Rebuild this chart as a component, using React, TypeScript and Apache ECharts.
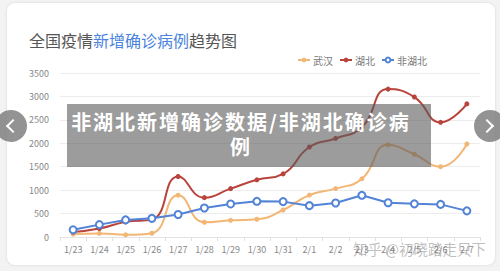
import React, { useEffect, useRef } from "react";
import * as echarts from "echarts";

const categories = ["1/23", "1/24", "1/25", "1/26", "1/27", "1/28", "1/29", "1/30", "1/31", "2/1", "2/2", "2/3", "2/4", "2/5", "2/6", "2/7"];
const wuhan = [62, 77, 46, 80, 892, 315, 356, 378, 576, 894, 1033, 1242, 1967, 1766, 1501, 1985];
const hubei = [105, 180, 323, 371, 1291, 840, 1032, 1220, 1347, 1921, 2103, 2345, 3156, 2987, 2447, 2841];
const nonHubei = [154, 264, 365, 398, 480, 619, 705, 762, 755, 669, 726, 890, 731, 707, 696, 558];
const seriesNames = ["武汉", "湖北", "非湖北"];
const yTicks = { min: 0, max: 3500, interval: 500 };

const FONT = "'Noto Sans CJK SC', 'Noto Sans', sans-serif";

export default function App() {
  const ref = useRef<HTMLDivElement>(null);
  useEffect(() => {
    const chart = echarts.init(ref.current!, null, { renderer: "svg" });
    chart.setOption({
      animation: false,
      textStyle: { fontFamily: FONT },
      title: {
        text: "{a|全国疫情}{b|新增确诊病例}{a|趋势图}",
        left: 24,
        top: 27,
        textStyle: {
          fontWeight: "normal",
          rich: {
            a: { fontSize: 16, color: "#555", fontFamily: FONT, fontWeight: "normal" },
            b: { fontSize: 16, color: "#4a84dc", fontFamily: FONT, fontWeight: "normal" },
          },
        },
      },
      legend: {
        data: seriesNames,
        left: 292,
        top: 50,
        itemWidth: 12,
        itemHeight: 6,
        itemGap: 6,
        textStyle: { fontSize: 10, color: "#777", padding: [0, 0, 0, -2] },
      },
      grid: { left: 60, right: 20, top: 73, bottom: 34 },
      xAxis: {
        type: "category",
        data: categories,
        boundaryGap: true,
        axisLine: { lineStyle: { color: "#e3e3e3" } },
        axisTick: { show: true, length: 4, lineStyle: { color: "#e0e0e0" } },
        axisLabel: { fontSize: 9, color: "#888", margin: 8 },
      },
      yAxis: {
        type: "value",
        min: yTicks.min,
        max: yTicks.max,
        interval: yTicks.interval,
        axisLine: { show: false },
        axisTick: { show: false },
        axisLabel: { fontSize: 9, color: "#888", margin: 11, formatter: (v: number) => String(v) },
        splitLine: { lineStyle: { color: "#ececec" } },
      },
      series: [
        {
          name: seriesNames[0],
          type: "line",
          data: wuhan,
          smooth: true,
          symbol: "circle",
          symbolSize: 5,
          itemStyle: { color: "#f2b675" },
          lineStyle: { width: 2, color: "#f2b675" },
        },
        {
          name: seriesNames[1],
          type: "line",
          data: hubei,
          smooth: true,
          symbol: "circle",
          symbolSize: 5,
          itemStyle: { color: "#b8443d" },
          lineStyle: { width: 2, color: "#b8443d" },
        },
        {
          name: seriesNames[2],
          type: "line",
          data: nonHubei,
          smooth: false,
          symbol: "emptyCircle",
          symbolSize: 7,
          itemStyle: { color: "#5283d6", borderWidth: 1 },
          lineStyle: { width: 2, color: "#5283d6" },
        },
      ],
      graphic: [
        {
          type: "text",
          left: 353,
          top: 241,
          z: 100,
          style: {
            text: "知乎 @初晓踏走只下",
            fontSize: 14.5,
            fontFamily: FONT,
            fill: "rgba(110,110,110,0.45)",
          },
        },
      ],
    });
    return () => chart.dispose();
  }, []);

  const chevron = (dir: "left" | "right"): React.CSSProperties => ({
    position: "absolute",
    top: 11,
    left: dir === "left" ? 13 : 8,
    width: 8,
    height: 8,
    borderLeft: "2px solid #fff",
    borderBottom: "2px solid #fff",
    transform: dir === "left" ? "rotate(45deg)" : "rotate(-135deg)",
  });

  return (
    <div
      style={{
        position: "fixed",
        left: 0,
        top: 0,
        width: 500,
        height: 271,
        background: "#f3f3f3",
        overflow: "hidden",
        fontFamily: FONT,
      }}
    >
      <div
        style={{
          position: "absolute",
          left: 7,
          top: 3,
          width: 488,
          height: 262,
          background: "#fff",
          borderRadius: 8,
          boxShadow: "0 0 3px rgba(0,0,0,0.12)",
        }}
      />
      <div ref={ref} style={{ position: "absolute", left: 0, top: 0, width: 500, height: 271 }} />
      <div
        style={{
          position: "absolute",
          left: 67,
          top: 104,
          width: 364,
          height: 63,
          background: "rgba(90,90,90,0.6)",
        }}
      />
      <div
        style={{
          position: "absolute",
          left: 70,
          top: 109,
          width: 342,
          color: "#fff",
          fontWeight: 700,
          fontSize: 20,
          letterSpacing: 2,
          lineHeight: "25px",
          textAlign: "center",
          fontFamily: FONT,
        }}
      >
        非湖北新增确诊数据/非湖北确诊病例
      </div>
      <div
        style={{
          position: "absolute",
          left: -5,
          top: 110,
          width: 32,
          height: 32,
          borderRadius: "50%",
          background: "rgba(120,120,120,0.8)",
        }}
      >
        <div style={chevron("left")} />
      </div>
      <div
        style={{
          position: "absolute",
          left: 474,
          top: 110,
          width: 32,
          height: 32,
          borderRadius: "50%",
          background: "rgba(120,120,120,0.8)",
        }}
      >
        <div style={chevron("right")} />
      </div>
    </div>
  );
}
